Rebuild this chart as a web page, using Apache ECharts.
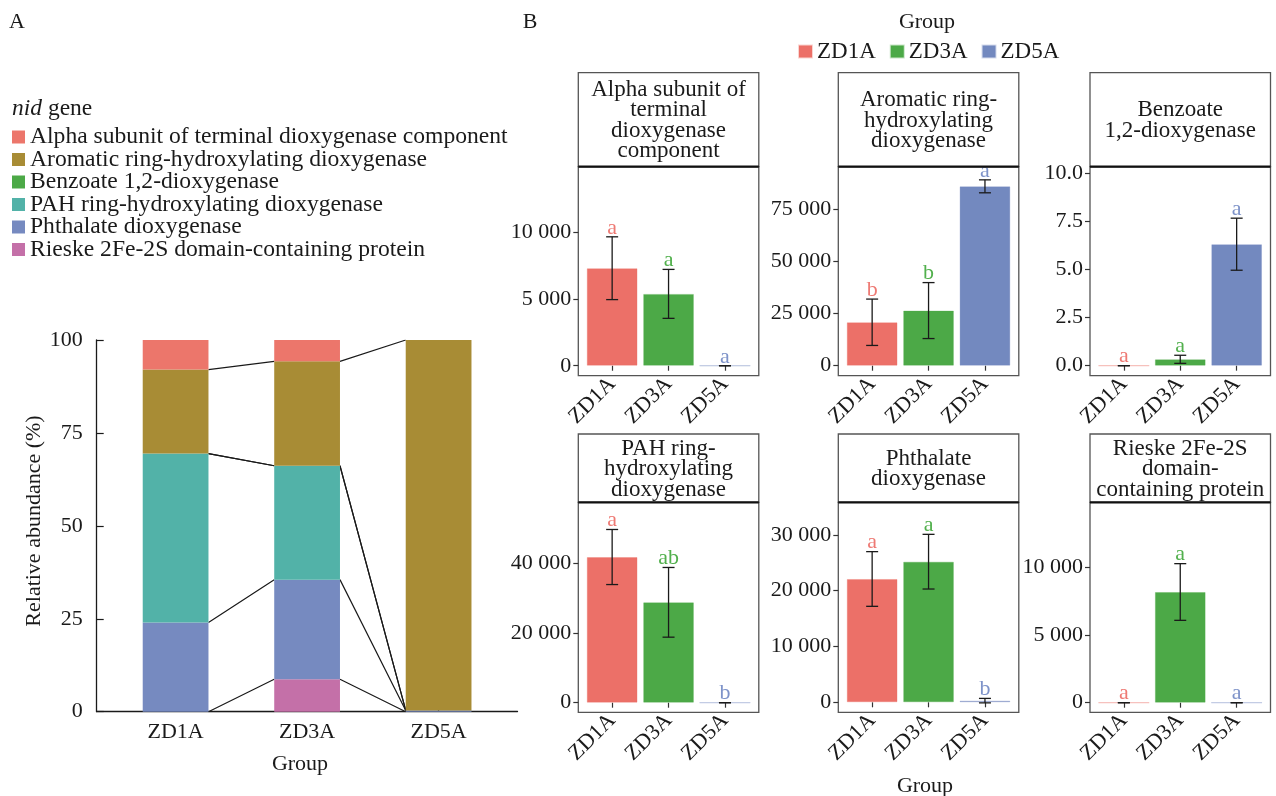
<!DOCTYPE html>
<html>
<head>
<meta charset="utf-8">
<script src="https://cdn.jsdelivr.net/npm/echarts@6/dist/echarts.min.js"></script>
<style>
  html, body { margin: 0; padding: 0; background: #fff; }
  #chart { width: 1276px; height: 796px; }
</style>
</head>
<body>
<div id="chart"></div>
<script>
const FONT = '"Liberation Serif", "Times New Roman", serif';
const INK = '#1a1a1a';

// sample groups
const groups = ['ZD1A', 'ZD3A', 'ZD5A'];
const groupColors = ['#EC7068', '#4CA947', '#7389BF'];
const groupOutlines = ['rgba(236,112,104,0.3)', 'rgba(76,169,71,0.3)', 'rgba(115,137,191,0.3)'];
const letterColors = ['#EE7A74', '#52B04D', '#7E93C9'];

// nid genes
const genes = [
  'Alpha subunit of terminal dioxygenase component',
  'Aromatic ring-hydroxylating dioxygenase',
  'Benzoate 1,2-dioxygenase',
  'PAH ring-hydroxylating dioxygenase',
  'Phthalate dioxygenase',
  'Rieske 2Fe-2S domain-containing protein'
];
const geneColors = ['#EC766B', '#A88C35', '#4CA947', '#52B2A8', '#768AC0', '#C470A8'];
const stripTitles = [
  'Alpha subunit of\nterminal\ndioxygenase\ncomponent',
  'Aromatic ring-\nhydroxylating\ndioxygenase',
  'Benzoate\n1,2-dioxygenase',
  'PAH ring-\nhydroxylating\ndioxygenase',
  'Phthalate\ndioxygenase',
  'Rieske 2Fe-2S\ndomain-\ncontaining protein'
];

// gene abundance per group (ZD1A, ZD3A, ZD5A): mean and error half-width
const alphaMean = [7330, 5400, 0];
const alphaErr = [2360, 1840, 0];
const aromaticMean = [20800, 26400, 85900];
const aromaticErr = [11100, 13400, 3100];
const benzoateMean = [0, 0.33, 6.3];
const benzoateErr = [0, 0.21, 1.35];
const pahMean = [41800, 28800, 0];
const pahErr = [7900, 10000, 0];
const phthalateMean = [22100, 25200, 300];
const phthalateErr = [4900, 4900, 400];
const rieskeMean = [0, 8200, 0];
const rieskeErr = [0, 2100, 0];

// significance letters
const alphaLetters = ['a', 'a', 'a'];
const aromaticLetters = ['b', 'b', 'a'];
const benzoateLetters = ['a', 'a', 'a'];
const pahLetters = ['a', 'ab', 'b'];
const phthalateLetters = ['a', 'a', 'b'];
const rieskeLetters = ['a', 'a', 'a'];

// y tick values per facet
const alphaTicks = [0, 5000, 10000];
const aromaticTicks = [0, 25000, 50000, 75000];
const benzoateTicks = [0, 2.5, 5, 7.5, 10];
const pahTicks = [0, 20000, 40000];
const phthalateTicks = [0, 10000, 20000, 30000];
const rieskeTicks = [0, 5000, 10000];

const means = [alphaMean, aromaticMean, benzoateMean, pahMean, phthalateMean, rieskeMean];
const errs = [alphaErr, aromaticErr, benzoateErr, pahErr, phthalateErr, rieskeErr];
const letters = [alphaLetters, aromaticLetters, benzoateLetters, pahLetters, phthalateLetters, rieskeLetters];
const ticks = [alphaTicks, aromaticTicks, benzoateTicks, pahTicks, phthalateTicks, rieskeTicks];

// facet value ranges (with ggplot-style padding)
const yRanges = [[-750, 14960], [-4790, 95300], [-0.52, 10.32], [-2755, 57500], [-1790, 35840], [-711, 14844]];

// relative abundance (%) of each gene within each group
const totals = groups.map((g, j) => means.reduce((s, m) => s + m[j], 0));
const pct = means.map(m => m.map((v, j) => v / totals[j] * 100));
// stacking from bottom: Rieske ... Alpha
const stackOrder = [5, 4, 3, 2, 1, 0];
const layerBottom = {};
groups.forEach((g, j) => {
  let acc = 0;
  stackOrder.forEach(k => { layerBottom[k] = layerBottom[k] || []; layerBottom[k][j] = acc; acc += pct[k][j]; });
});

// ---- layout ----
const xMin = 0.4, xMax = 3.6;
const A = { left: 96.7, top: 340, width: 420.8, height: 371.7 };
const stepA = A.width / (xMax - xMin);
const colLeft = [578.3, 838.3, 1090];
const panelW = 180.5;
const rows = [
  { strip: 72.7, top: 166.7, bottom: 375.7 },
  { strip: 434, top: 502.3, bottom: 712.3 }
];
const barFracA = 0.5, barFracB = 0.9;

const thousands = v => String(Math.round(v)).replace(/\B(?=(\d{3})+(?!\d))/g, ' ');

// grid 0: axis frame + connectors of panel A (continuous x)
// grid 1: stacked bars of panel A (category x, inset to the outer expansion)
const grids = [
  { left: A.left, top: A.top, width: A.width, height: A.height },
  { left: A.left + (1 - xMin - 0.5) * stepA, top: A.top, width: stepA * 3, height: A.height }
];
const xAxes = [
  {
    type: 'value', gridIndex: 0, min: xMin, max: xMax,
    axisLine: { show: true, lineStyle: { color: INK, width: 1.3 } },
    axisTick: { show: false }, axisLabel: { show: false }, splitLine: { show: false }
  },
  {
    type: 'category', gridIndex: 1, data: groups,
    axisLine: { show: false },
    axisTick: { show: true, inside: true, length: 7, alignWithLabel: true, lineStyle: { color: INK, width: 1.2 } },
    axisLabel: { fontFamily: FONT, fontSize: 22, color: INK, margin: 10 },
    splitLine: { show: false }
  }
];
const yAxes = [
  {
    type: 'value', gridIndex: 0, min: 0, max: 100, interval: 25,
    axisLine: { show: true, lineStyle: { color: INK, width: 1.3 } },
    axisTick: { show: true, inside: true, length: 7, lineStyle: { color: INK, width: 1.2 } },
    axisLabel: { fontFamily: FONT, fontSize: 22, color: INK, margin: 14 },
    splitLine: { show: false }
  },
  {
    type: 'value', gridIndex: 1, min: 0, max: 100, show: false
  }
];
const series = [];

// Panel A: stacked relative abundance
stackOrder.forEach(k => {
  series.push({
    type: 'bar', name: genes[k], xAxisIndex: 1, yAxisIndex: 1, stack: 'abundance',
    barWidth: (barFracA * 100) + '%',
    itemStyle: { color: geneColors[k] },
    data: pct[k],
    z: 3
  });
});
// connectors between neighbouring bars, at the bottom of each layer
const h = barFracA / 2;
stackOrder.forEach(k => {
  const b = layerBottom[k];
  series.push({
    type: 'line', name: 'link-' + k, xAxisIndex: 0, yAxisIndex: 0,
    symbol: 'none', silent: true, connectNulls: false,
    lineStyle: { color: INK, width: 1.2 },
    data: [[1 + h, b[0]], [2 - h, b[1]], [2, '-'], [2 + h, b[1]], [3 - h, b[2]]],
    z: 2
  });
});

// Panel B: faceted group means
const graphics = [];
means.forEach((m, f) => {
  const r = rows[Math.floor(f / 3)];
  const left = colLeft[f % 3];
  const gi = grids.length;
  grids.push({
    left: left, top: r.top, width: panelW, height: r.bottom - r.top,
    show: true, borderColor: '#555', borderWidth: 1.3, backgroundColor: 'transparent'
  });
  const fmt = f === 2 ? (v => v.toFixed(1)) : thousands;
  xAxes.push({
    type: 'value', gridIndex: gi, min: xMin, max: xMax,
    axisLine: { show: false },
    axisTick: { show: true, length: 5, customValues: [1, 2, 3], lineStyle: { color: '#333', width: 1.2 } },
    axisLabel: { customValues: [1, 2, 3], formatter: v => groups[Math.round(v) - 1], rotate: 45, fontFamily: FONT, fontSize: 22, color: INK, margin: 5 },
    splitLine: { show: false }
  });
  yAxes.push({
    type: 'value', gridIndex: gi, min: yRanges[f][0], max: yRanges[f][1],
    axisLine: { show: false },
    axisTick: { show: true, length: 5, customValues: ticks[f], lineStyle: { color: '#333', width: 1.2 } },
    axisLabel: { customValues: ticks[f], formatter: fmt, fontFamily: FONT, fontSize: 22, color: INK, margin: 7 },
    splitLine: { show: false }
  });
  const bw = panelW / (xMax - xMin) * barFracB;
  groups.forEach((g, j) => {
    series.push({
      type: 'bar', name: g, xAxisIndex: gi, yAxisIndex: gi,
      barWidth: bw, barGap: '-100%',
      itemStyle: { color: groupColors[j], borderColor: groupOutlines[j], borderWidth: 1 },
      data: [[j + 1, m[j]]]
    });
  });
  series.push({
    type: 'custom', name: 'err-' + f, xAxisIndex: gi, yAxisIndex: gi, silent: true, z: 5,
    data: groups.map((g, j) => [j + 1, m[j] - errs[f][j], m[j] + errs[f][j]]),
    renderItem: (params, api) => {
      const x = api.value(0);
      const top = api.coord([x, api.value(2)]);
      const bot = api.coord([x, api.value(1)]);
      const cap = 6;
      const ls = { stroke: INK, lineWidth: 1.3 };
      const j = params.dataIndex;
      return {
        type: 'group',
        children: [
          { type: 'line', shape: { x1: top[0], y1: top[1], x2: bot[0], y2: bot[1] }, style: ls },
          { type: 'line', shape: { x1: top[0] - cap, y1: top[1], x2: top[0] + cap, y2: top[1] }, style: ls },
          { type: 'line', shape: { x1: bot[0] - cap, y1: bot[1], x2: bot[0] + cap, y2: bot[1] }, style: ls },
          { type: 'text', x: top[0], y: top[1] + 2,
            style: { text: letters[f][j], fill: letterColors[j], font: '22px ' + FONT, textAlign: 'center', textVerticalAlign: 'bottom' } }
        ]
      };
    }
  });
  // facet strip
  graphics.push({
    type: 'rect', z: 100,
    shape: { x: left, y: r.strip, width: panelW, height: r.top - r.strip },
    style: { fill: '#fff', stroke: '#555', lineWidth: 1.3 }
  });
  graphics.push({
    type: 'line', z: 101,
    shape: { x1: left, y1: r.top, x2: left + panelW, y2: r.top },
    style: { stroke: '#111', lineWidth: 2.2 }
  });
  graphics.push({
    type: 'text', z: 102, x: left + panelW / 2, y: (r.strip + r.top) / 2 + 1,
    style: { text: stripTitles[f], font: '23px ' + FONT, fill: INK, textAlign: 'center', textVerticalAlign: 'middle', lineHeight: 20.5 }
  });
});

// free-standing texts
const txt = (text, x, y, size, extra) => Object.assign({
  type: 'text', z: 110, x: x, y: y,
  style: { text: text, font: size + 'px ' + FONT, fill: INK, textAlign: 'center', textVerticalAlign: 'middle' }
}, extra || {});
graphics.push(txt('A', 17, 22, 22));
graphics.push(txt('B', 530, 22, 22));
graphics.push(txt('Group', 927, 22, 22));
graphics.push(txt('Group', 300, 764, 22));
graphics.push(txt('Group', 925, 786, 22));
graphics.push(txt('Relative abundance (%)', 34, 521, 22, { rotation: Math.PI / 2 }));

const chart = echarts.init(document.getElementById('chart'), null, { renderer: 'canvas' });
chart.setOption({
  animation: false,
  backgroundColor: '#fff',
  textStyle: { fontFamily: FONT },
  title: {
    text: '{i|nid} gene', left: 12, top: 97, padding: 0,
    textStyle: {
      fontFamily: FONT, fontSize: 23.5, fontWeight: 'normal', color: INK,
      rich: { i: { fontFamily: FONT, fontSize: 23.5, fontStyle: 'italic', color: INK } }
    }
  },
  legend: [
    {
      data: genes, orient: 'vertical', left: 12, top: 125, padding: 0, selectedMode: false,
      icon: 'rect', itemWidth: 13, itemHeight: 13, itemGap: -1.5,
      textStyle: { fontFamily: FONT, fontSize: 23.6, color: INK }
    },
    {
      data: groups, orient: 'horizontal', left: 798, top: 40, padding: 0, selectedMode: false,
      icon: 'rect', itemWidth: 13, itemHeight: 12, itemGap: 14,
      textStyle: { fontFamily: FONT, fontSize: 23, color: INK }
    }
  ],
  grid: grids,
  xAxis: xAxes,
  yAxis: yAxes,
  series: series,
  graphic: { elements: graphics }
});
</script>
</body>
</html>
